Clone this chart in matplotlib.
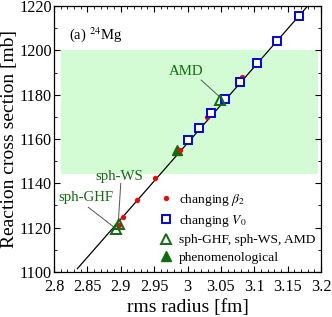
import matplotlib
matplotlib.use("Agg")
import matplotlib.pyplot as plt
from matplotlib.ticker import MultipleLocator

plt.rcParams['font.family'] = ['Liberation Serif', 'DejaVu Serif']
plt.rcParams['mathtext.fontset'] = 'stix'

# data
beta_x = [2.898, 2.903, 2.924, 2.951, 2.989, 3.029, 3.082]
beta_y = [1121.0, 1124.6, 1132.3, 1142.3, 1155.0, 1170.1, 1188.1]
v0_x = [3.000, 3.017, 3.035, 3.056, 3.079, 3.104, 3.134, 3.167]
v0_y = [1159.5, 1165.1, 1171.6, 1178.2, 1185.9, 1194.3, 1204.1, 1215.4]
micro_names = ['sph-GHF', 'sph-WS', 'AMD']
micro_x = [2.8925, 2.8975, 3.049]
micro_y = [1119.4, 1121.5, 1177.6]
phen_x = [2.984]
phen_y = [1155.0]
fit_x = [2.835, 3.180]
fit_y = [1101.5, 1220.0]
band_x = [2.81, 3.195]
band_y = [1144.0, 1200.0]
label_x = [2.848, 2.8975, 2.998]
label_y = [1133.8, 1143.3, 1190.4]
leader_start_x = [2.8514, 2.900, 3.0204]
leader_start_y = [1129.2, 1140.0, 1186.6]
leader_end_x = [2.8889, 2.8964, 3.0479]
leader_end_y = [1120.45, 1122.7, 1179.1]

fig = plt.figure(figsize=(3.32, 3.17), dpi=100)
ax = fig.add_axes([0.1627, 0.142, 0.8042, 0.839])

green = '#0c6e0c'
ax.fill_between(band_x, band_y[0], band_y[1], color='#d4fcd4', lw=0, zorder=0)
ax.plot(fit_x, fit_y, color='black', lw=0.9, zorder=2)

ax.plot(beta_x, beta_y, 'o', color='#ff0000', ms=3.8, mec='none', zorder=3,
        label=r'changing $\beta_2$')
ax.plot(v0_x, v0_y, 's', mfc='white', mec='#0000ff', mew=1.4, ms=5.3, zorder=4,
        label=r'changing $V_0$')
ax.plot(micro_x, micro_y, '^', mfc='none', mec=green, mew=1.4, ms=6.5, zorder=5,
        label='sph-GHF, sph-WS, AMD')
ax.plot(phen_x, phen_y, '^', color=green, ms=6.5, mec=green, zorder=2.5,
        label='phenomenological')

# annotations
for name, tx, ty, x0, y0, x1, y1 in zip(micro_names, label_x, label_y,
                                         leader_start_x, leader_start_y,
                                         leader_end_x, leader_end_y):
    ax.text(tx, ty, name, color=green, fontsize=10.7, ha='center', va='center', zorder=6)
    ax.plot([x0, x1], [y0, y1], color='#555555', lw=0.7, zorder=2)

ax.text(2.823, 1207, r'(a) $^{24}$Mg', fontsize=10.5, ha='left', va='center')

ax.set_xlim(2.8, 3.2)
ax.set_ylim(1100, 1220)
ax.xaxis.set_minor_locator(MultipleLocator(0.01))
ax.yaxis.set_major_locator(MultipleLocator(20))
ax.yaxis.set_minor_locator(MultipleLocator(10))
ax.set_xticks([2.8, 2.85, 2.9, 2.95, 3.0, 3.05, 3.1, 3.15, 3.2])
ax.set_xticklabels(['2.8', '2.85', '2.9', '2.95', '3', '3.05', '3.1', '3.15', '3.2'])
ax.tick_params(which='both', direction='in', top=True, right=True, labelsize=11.7)
ax.tick_params(which='major', length=4.5, width=0.8)
ax.tick_params(which='minor', length=2.2, width=0.6)
ax.tick_params(axis='x', pad=4.8)
ax.tick_params(axis='y', pad=1.5)
for s in ax.spines.values():
    s.set_linewidth(0.9)

ax.set_xlabel('rms radius [fm]', fontsize=14, labelpad=3)
ax.set_ylabel('Reaction cross section [mb]', fontsize=14, labelpad=1)

ax.legend(loc='lower right', frameon=False, fontsize=9.7, handletextpad=0.5,
          handlelength=1.0, labelspacing=0.38, borderaxespad=0.0,
          bbox_to_anchor=(1.0, 0.01))

fig.savefig('out.png', dpi=100)
